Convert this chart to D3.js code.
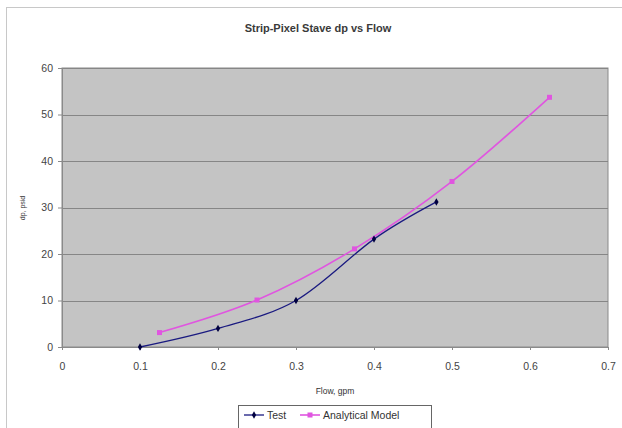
<!DOCTYPE html>
<html>
<head>
<meta charset="utf-8">
<script src="https://cdn.jsdelivr.net/npm/d3@7"></script>
<style>
  html, body { margin: 0; padding: 0; background: #fff; }
  svg { display: block; font-family: "Liberation Sans", Arial, sans-serif; }
</style>
</head>
<body>
<svg id="chart" width="622" height="428"></svg>
<script>
const title = "Strip-Pixel Stave dp vs Flow";
const xTitle = "Flow, gpm";
const yTitle = "dp, psid";
const xTicks = [0, 0.1, 0.2, 0.3, 0.4, 0.5, 0.6, 0.7];
const yTicks = [0, 10, 20, 30, 40, 50, 60];

const testFlow = [0.1, 0.2, 0.3, 0.4, 0.48];
const testDp = [0, 4, 10, 23.2, 31.2];
const modelFlow = [0.125, 0.25, 0.375, 0.5, 0.625];
const modelDp = [3.1, 10.1, 21.1, 35.6, 53.7];

const seriesNames = ["Test", "Analytical Model"];
const seriesColors = ["#1a1a80", "#e055e0"];

const svg = d3.select("#chart");
const pLeft = 62, pRight = 608, pTop = 68, pBottom = 347;

const x = d3.scaleLinear().domain([0, 0.7]).range([pLeft, pRight]);
const y = d3.scaleLinear().domain([0, 60]).range([pBottom, pTop]);

// chart border
svg.append("rect").attr("x", 6.5).attr("y", 7.5).attr("width", 640).attr("height", 440)
  .attr("fill", "#fff").attr("stroke", "#c8c8c8").attr("stroke-width", 1);

// plot bg
svg.append("rect").attr("x", pLeft).attr("y", pTop).attr("width", pRight - pLeft).attr("height", pBottom - pTop)
  .attr("fill", "#c4c4c4").attr("stroke", "#8a8a8a").attr("stroke-width", 1);

// gridlines
svg.append("g").selectAll("line").data(yTicks.slice(1)).join("line")
  .attr("x1", pLeft).attr("x2", pRight)
  .attr("y1", d => Math.round(y(d)) + 0.5).attr("y2", d => Math.round(y(d)) + 0.5)
  .attr("stroke", "#868686").attr("stroke-width", 1.2);

// axes
const yAxis = d3.axisLeft(y).tickValues(yTicks).tickSize(4).tickPadding(5).tickFormat(d3.format("d"));
const gy = svg.append("g").attr("transform", `translate(${pLeft},0)`).call(yAxis);
gy.select(".domain").attr("stroke", "#8a8a8a");
gy.selectAll(".tick line").attr("stroke", "#8a8a8a");
gy.selectAll("text").attr("fill", "#444").attr("font-size", 10.5);

const xAxis = d3.axisBottom(x).tickValues(xTicks).tickSize(3).tickPadding(13).tickFormat(d => d === 0 ? "0" : d3.format(".1f")(d));
const gx = svg.append("g").attr("transform", `translate(0,${pBottom})`).call(xAxis);
gx.select(".domain").attr("stroke", "#8a8a8a");
gx.selectAll(".tick line").attr("stroke", "#8a8a8a");
gx.selectAll("text").attr("fill", "#444").attr("font-size", 10.5);

// titles
svg.append("text").attr("x", 318).attr("y", 32).attr("text-anchor", "middle")
  .attr("font-size", 11).attr("font-weight", "bold").attr("fill", "#3a3a3a").text(title);
svg.append("text").attr("x", 335).attr("y", 394).attr("text-anchor", "middle")
  .attr("font-size", 8.5).attr("fill", "#333").text(xTitle);
svg.append("text").attr("transform", "translate(25,208) rotate(-90)").attr("text-anchor", "middle")
  .attr("font-size", 7).attr("fill", "#333").text(yTitle);

// lines
const line = d3.line().x(d => x(d[0])).y(d => y(d[1])).curve(d3.curveCatmullRom.alpha(0));
const testData = testFlow.map((f, i) => [f, testDp[i]]);
const modelData = modelFlow.map((f, i) => [f, modelDp[i]]);

svg.append("path").datum(modelData).attr("d", line).attr("fill", "none")
  .attr("stroke", seriesColors[1]).attr("stroke-width", 1.6);
svg.append("g").selectAll("rect").data(modelData).join("rect")
  .attr("x", d => x(d[0]) - 2.5).attr("y", d => y(d[1]) - 2.5).attr("width", 5).attr("height", 5)
  .attr("fill", seriesColors[1]);

svg.append("path").datum(testData).attr("d", line).attr("fill", "none")
  .attr("stroke", seriesColors[0]).attr("stroke-width", 1.3);
const diamond = d3.symbol().type(d3.symbolDiamond).size(16);
svg.append("g").selectAll("path").data(testData).join("path")
  .attr("transform", d => `translate(${x(d[0])},${y(d[1])})`).attr("d", diamond)
  .attr("fill", "#000040");

// legend
const lg = svg.append("g");
lg.append("rect").attr("x", 238.5).attr("y", 405.5).attr("width", 193).attr("height", 26)
  .attr("fill", "#fff").attr("stroke", "#666");
lg.append("line").attr("x1", 244).attr("x2", 264).attr("y1", 415).attr("y2", 415).attr("stroke", seriesColors[0]).attr("stroke-width", 1.3);
lg.append("path").attr("transform", "translate(254,415)").attr("d", diamond).attr("fill", "#000040");
lg.append("text").attr("x", 267).attr("y", 419).attr("font-size", 10.5).attr("fill", "#333").text(seriesNames[0]);
lg.append("line").attr("x1", 300).attr("x2", 320).attr("y1", 415).attr("y2", 415).attr("stroke", seriesColors[1]).attr("stroke-width", 1.6);
lg.append("rect").attr("x", 307.5).attr("y", 412.5).attr("width", 5).attr("height", 5).attr("fill", seriesColors[1]);
lg.append("text").attr("x", 323).attr("y", 419).attr("font-size", 10.5).attr("fill", "#333").text(seriesNames[1]);
</script>
</body>
</html>
